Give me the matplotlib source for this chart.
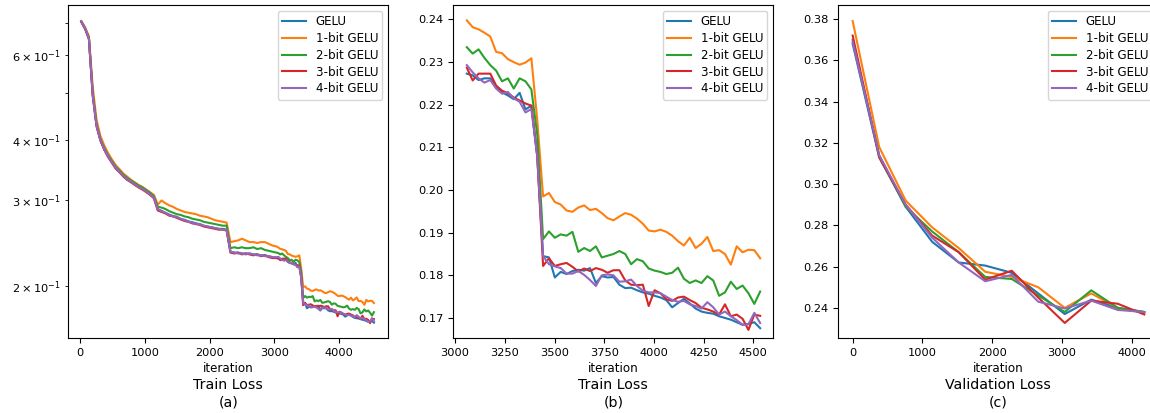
import numpy as np
import matplotlib
matplotlib.use("Agg")
import matplotlib.pyplot as plt

labels = ["GELU", "1-bit GELU", "2-bit GELU", "3-bit GELU", "4-bit GELU"]

# train loss, first part (only shown in panel a)
iter_early = np.arange(20, 3030, 59)
gelu_early = [0.703,0.680,0.648,0.495,0.428,0.400,0.383,0.370,0.360,0.350,
              0.3435,0.3375,0.331,0.3285,0.3235,0.3205,0.316,0.3135,0.3085,0.3045,
              0.2875,0.2855,0.2825,0.2805,0.2785,0.2775,0.2745,0.2735,0.2715,0.2705,
              0.269,0.268,0.266,0.265,0.264,0.263,0.262,0.262,0.261,0.235,
              0.234,0.234,0.233,0.233,0.233,0.232,0.232,0.231,0.231,0.230,
              0.229,0.228]
bit1_early = [0.705,0.684,0.656,0.515,0.440,0.408,0.390,0.376,0.365,0.355,
              0.348,0.341,0.336,0.331,0.327,0.323,0.320,0.316,0.312,0.308,
              0.294,0.300,0.296,0.293,0.291,0.288,0.286,0.284,0.283,0.282,
              0.281,0.279,0.278,0.277,0.275,0.273,0.272,0.271,0.270,0.246,
              0.247,0.248,0.250,0.248,0.246,0.246,0.245,0.246,0.246,0.244,
              0.242,0.241]
bit2_early = [0.704,0.682,0.650,0.500,0.431,0.402,0.385,0.372,0.362,0.352,
              0.346,0.339,0.334,0.330,0.326,0.322,0.319,0.315,0.311,0.306,
              0.291,0.290,0.288,0.285,0.283,0.281,0.280,0.278,0.277,0.275,
              0.274,0.273,0.271,0.270,0.269,0.268,0.267,0.266,0.266,0.239,
              0.240,0.239,0.240,0.239,0.239,0.240,0.238,0.239,0.237,0.236,
              0.235,0.234]
bit3_early = [0.702,0.679,0.647,0.494,0.427,0.399,0.382,0.369,0.359,0.349,
              0.343,0.336,0.331,0.327,0.323,0.319,0.316,0.312,0.308,0.303,
              0.286,0.284,0.282,0.279,0.278,0.276,0.274,0.272,0.271,0.269,
              0.268,0.267,0.265,0.264,0.263,0.262,0.261,0.261,0.260,0.234,
              0.233,0.234,0.232,0.233,0.232,0.231,0.232,0.230,0.231,0.229,
              0.228,0.228]
bit4_early = [0.704,0.681,0.649,0.496,0.428,0.400,0.383,0.370,0.360,0.350,
              0.344,0.337,0.332,0.328,0.324,0.320,0.317,0.313,0.309,0.304,
              0.288,0.285,0.283,0.280,0.278,0.277,0.275,0.273,0.271,0.270,
              0.268,0.268,0.266,0.265,0.264,0.263,0.262,0.261,0.261,0.235,
              0.234,0.233,0.233,0.232,0.233,0.232,0.231,0.231,0.230,0.230,
              0.229,0.229]

# train loss, last part (panel b, also the tail of panel a)
iter_late = np.arange(3059, 4540, 29.5)
gelu_late = [.2273,.2269,.2258,.2262,.2262,.2243,.2229,.2222,.2213,.2228,.2189,.2198,.2080,
             .1845,.1842,.1795,.1808,.1803,.1810,.1813,.1811,.1817,.1782,
             .1798,.1795,.1796,.1778,.1770,.1771,.1765,.1760,.1757,.1752,
             .1748,.1742,.1725,.1735,.1745,.1734,.1722,.1715,.1712,.1710,
             .1704,.1700,.1696,.1690,.1684,.1686,.1690,.1676]
bit1_late = [.2398,.2382,.2377,.2369,.2360,.2324,.2321,.2307,.2300,.2294,.2299,.2309,.2165,
             .1985,.1993,.1972,.1966,.1952,.1949,.1959,.1964,.1953,.1956,
             .1946,.1934,.1929,.1938,.1946,.1942,.1933,.1921,.1905,.1903,
             .1907,.1902,.1893,.1880,.1870,.1888,.1864,.1874,.1890,.1857,
             .1859,.1850,.1825,.1868,.1854,.1860,.1859,.1840]
bit2_late = [.2335,.2320,.2330,.2310,.2293,.2280,.2255,.2262,.2238,.2262,.2255,.2236,.2130,
             .1885,.1903,.1888,.1896,.1893,.1902,.1855,.1864,.1857,.1868,
             .1842,.1846,.1850,.1857,.1850,.1826,.1838,.1833,.1816,.1811,
             .1808,.1803,.1806,.1818,.1792,.1782,.1788,.1782,.1798,.1788,
             .1752,.1760,.1785,.1768,.1776,.1758,.1733,.1762]
bit3_late = [.2287,.2257,.2273,.2273,.2273,.2245,.2233,.2227,.2217,.2210,.2203,.2198,.2080,
             .1822,.1840,.1822,.1826,.1829,.1820,.1809,.1816,.1810,.1817,
             .1813,.1806,.1812,.1812,.1788,.1778,.1777,.1778,.1728,.1765,
             .1758,.1744,.1740,.1748,.1750,.1742,.1735,.1724,.1720,.1715,
             .1708,.1732,.1704,.1708,.1698,.1672,.1708,.1705]
bit4_late = [.2293,.2276,.2262,.2252,.2258,.2238,.2226,.2230,.2215,.2207,.2182,.2190,.2080,
             .1845,.1826,.1821,.1817,.1804,.1804,.1810,.1801,.1789,.1775,
             .1800,.1802,.1800,.1785,.1786,.1790,.1775,.1764,.1760,.1760,
             .1758,.1750,.1742,.1738,.1740,.1732,.1728,.1722,.1737,.1725,
             .1708,.1715,.1704,.1695,.1684,.1685,.1712,.1688]

# validation loss
val_iter = [0, 380, 760, 1140, 1520, 1900, 2280, 2660, 3040, 3420, 3800, 4180]
gelu_val = [0.368, 0.313, 0.289, 0.272, 0.262, 0.2605, 0.257, 0.247, 0.237, 0.244, 0.240, 0.238]
bit1_val = [0.379, 0.318, 0.292, 0.279, 0.269, 0.2575, 0.255, 0.250, 0.240, 0.247, 0.240, 0.2375]
bit2_val = [0.370, 0.314, 0.289, 0.277, 0.267, 0.255, 0.254, 0.246, 0.238, 0.2485, 0.240, 0.238]
bit3_val = [0.372, 0.313, 0.290, 0.275, 0.267, 0.2537, 0.258, 0.245, 0.2327, 0.2435, 0.242, 0.2368]
bit4_val = [0.369, 0.314, 0.290, 0.274, 0.262, 0.2529, 0.256, 0.243, 0.2397, 0.2435, 0.239, 0.238]

early = [gelu_early, bit1_early, bit2_early, bit3_early, bit4_early]
late = [gelu_late, bit1_late, bit2_late, bit3_late, bit4_late]
val = [gelu_val, bit1_val, bit2_val, bit3_val, bit4_val]

plt.rcParams["font.family"] = "DejaVu Sans"
fig = plt.figure(figsize=(11.5, 4.13), dpi=100)
W, H = 1150.0, 413.0
bot = (H - 338) / H
hgt = 333 / H
wid = 320 / W
lefts = [68.3 / W, 453.3 / W, 838.3 / W]
axs = [fig.add_axes([l, bot, wid, hgt]) for l in lefts]

ax = axs[0]
for e, l, lab in zip(early, late, labels):
    ax.plot(np.concatenate([iter_early, iter_late]), np.concatenate([e, l]), lw=1.5, label=lab)
ax.set_yscale("log")
ax.set_xlim(-180, 4756)
ax.set_ylim(0.1558, 0.761)

ax = axs[1]
for l, lab in zip(late, labels):
    ax.plot(iter_late, l, lw=1.5, label=lab)
ax.set_xlim(2991, 4600)
ax.set_ylim(0.1653, 0.2434)
ax.set_xticks([3000, 3250, 3500, 3750, 4000, 4250, 4500])
ax.set_yticks([0.17, 0.18, 0.19, 0.20, 0.21, 0.22, 0.23, 0.24])

ax = axs[2]
for v, lab in zip(val, labels):
    ax.plot(val_iter, v, lw=1.5, label=lab)
ax.set_xlim(-206, 4381)
ax.set_ylim(0.2254, 0.3868)
ax.set_yticks([0.24, 0.26, 0.28, 0.30, 0.32, 0.34, 0.36, 0.38])

titles = [("Train Loss", "(a)"), ("Train Loss", "(b)"), ("Validation Loss", "(c)")]
for ax, l, (t1, t2) in zip(axs, lefts, titles):
    ax.tick_params(labelsize=8.2, which="both")
    ax.set_xlabel("iteration", fontsize=8.6, labelpad=3)
    ax.legend(loc="upper right", fontsize=8.6, labelspacing=0.32, borderpad=0.35)
    cx = l + wid / 2
    fig.text(cx, 1 - 385 / H, t1, ha="center", va="center", fontsize=10.2)
    fig.text(cx, 1 - 403 / H, t2, ha="center", va="center", fontsize=10.2)

fig.savefig("out.png", dpi=100)
